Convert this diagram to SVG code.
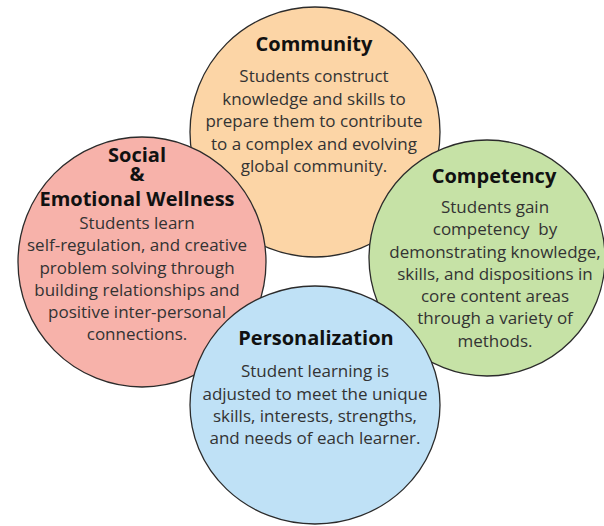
<svg xmlns="http://www.w3.org/2000/svg" width="604" height="526" viewBox="0 0 604 526">
<style>
.c{stroke:#2b2b2b;stroke-width:1.3}
.t{font-family:"Open Sans","Noto Sans",sans-serif;font-weight:700;font-size:20px;fill:#111;text-anchor:middle}
.b{font-family:"Open Sans","Noto Sans",sans-serif;font-size:17px;fill:#333;text-anchor:middle;white-space:pre}
</style>
<rect width="604" height="526" fill="#ffffff"/>
<g id="community">
<ellipse class="c" cx="315" cy="132" rx="125" ry="125" fill="#fcd5a6"/>
<text class="t" x="314" y="51">Community</text>
<text class="b" x="314" y="82">Students construct</text>
<text class="b" x="314" y="104.5">knowledge and skills to</text>
<text class="b" x="314" y="127">prepare them to contribute</text>
<text class="b" x="314" y="149.5">to a complex and evolving</text>
<text class="b" x="314" y="172">global community.</text>
</g>
<g id="social">
<ellipse class="c" cx="142" cy="262" rx="124" ry="125" fill="#f7b2aa"/>
<text class="t" x="137" y="162">Social</text>
<text class="t" x="137" y="181">&amp;</text>
<text class="t" x="137" y="206">Emotional Wellness</text>
<text class="b" x="137" y="229">Students learn</text>
<text class="b" x="137" y="251">self-regulation, and creative</text>
<text class="b" x="137" y="273.5">problem solving through</text>
<text class="b" x="137" y="295.5">building relationships and</text>
<text class="b" x="137" y="317.5">positive inter-personal</text>
<text class="b" x="137" y="339.5">connections.</text>
</g>
<g id="competency">
<ellipse class="c" cx="487" cy="258" rx="118" ry="118" fill="#c6e2a6"/>
<text class="t" x="494" y="183">Competency</text>
<text class="b" x="495" y="213">Students gain</text>
<text class="b" x="495" y="235" xml:space="preserve">competency  by</text>
<text class="b" x="495" y="257.5">demonstrating knowledge,</text>
<text class="b" x="495" y="279.5">skills, and dispositions in</text>
<text class="b" x="495" y="302">core content areas</text>
<text class="b" x="495" y="324">through a variety of</text>
<text class="b" x="495" y="346.5">methods.</text>
</g>
<g id="personalization">
<ellipse class="c" cx="315" cy="405" rx="125" ry="119" fill="#bfe1f6"/>
<text class="t" x="316" y="345">Personalization</text>
<text class="b" x="315" y="377">Student learning is</text>
<text class="b" x="315" y="399.5">adjusted to meet the unique</text>
<text class="b" x="315" y="421.5">skills, interests, strengths,</text>
<text class="b" x="315" y="443.5">and needs of each learner.</text>
</g>
<g id="connectors"></g>
</svg>
